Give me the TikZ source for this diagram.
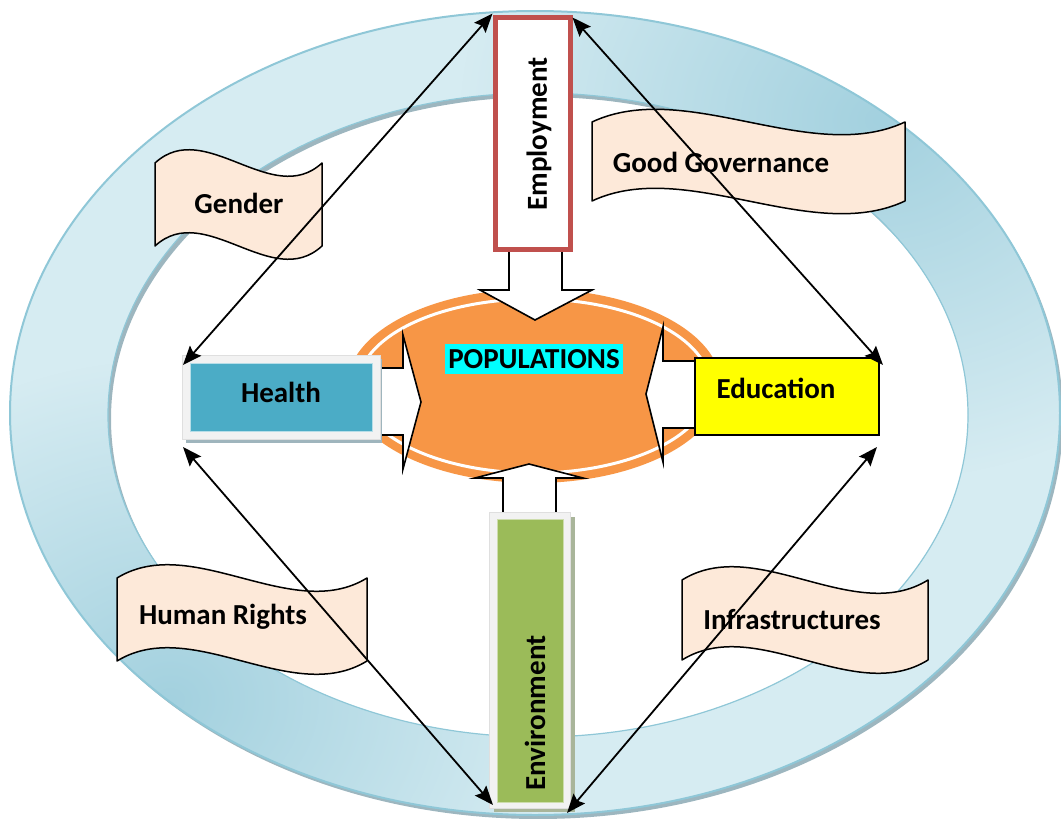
\documentclass[tikz,border=0pt]{standalone}
\usepackage{fontspec}
\setmainfont{Carlito}
\usetikzlibrary{arrows.meta,fadings,calc}
\definecolor{ringlight}{HTML}{D6ECF2}
\definecolor{ringdark}{HTML}{A3D1DF}
\definecolor{ringedge}{HTML}{8FC7D7}
\definecolor{ringshadow}{HTML}{9DB6BF}
\definecolor{popor}{HTML}{F79646}
\definecolor{peach}{HTML}{FDE9D9}
\definecolor{healthblue}{HTML}{4BACC6}
\definecolor{envgreen}{HTML}{9BBB59}
\definecolor{empred}{HTML}{C0504D}
\definecolor{framegray}{HTML}{F2F2F2}
\definecolor{hshadow}{HTML}{9FB5BD}
\definecolor{eshadow}{HTML}{A9B59A}
\definecolor{hilite}{HTML}{00FFFF}
\definecolor{eduyellow}{HTML}{FFFF00}
\tikzfading[name=myradial, inner color=transparent!0, outer color=transparent!100]
\begin{document}
\begin{tikzpicture}[x=1pt,y=-1pt,
  lbl/.style={font=\bfseries\fontsize{29}{33}\selectfont, text=black, inner sep=0pt},
  banner/.style={fill=peach, draw=black, line width=1.5pt, line join=round},
  blockarrow/.style={fill=white, draw=black, line width=1.6pt, line join=miter},
  link/.style={line width=1.8pt, {Stealth[length=19pt,width=15pt,inset=3pt]}-{Stealth[length=19pt,width=15pt,inset=3pt]}},
  plainbox/.style={inner sep=0pt, outer sep=0pt}]
\useasboundingbox (0,0) rectangle (1061,819);

% ring shadow
\fill[ringshadow, even odd rule] (538,417) ellipse [x radius=525, y radius=402]
  (541,419) ellipse [x radius=430, y radius=322];
% ring body
\begin{scope}[even odd rule]
  \clip (535,413) ellipse [x radius=525, y radius=402]
    (538,415) ellipse [x radius=430, y radius=322];
  \fill[ringlight] (0,0) rectangle (1061,819);
  \fill[ringdark, path fading=myradial] (880,120) ellipse [x radius=420, y radius=360];
  \fill[ringdark, path fading=myradial] (170,700) ellipse [x radius=400, y radius=340];
\end{scope}
\draw[ringedge, line width=2pt] (535,413) ellipse [x radius=525, y radius=402];
\draw[ringedge, line width=1.2pt] (538,415) ellipse [x radius=430, y radius=322];

% banners
\path[banner] (155,163) .. controls (205,117) and (272,209) .. (322,163) -- (322,246)
  .. controls (272,292) and (205,200) .. (155,246) -- cycle;
\path[banner] (592,122) .. controls (686,78) and (811,166) .. (905,122) -- (905,201)
  .. controls (811,245) and (686,157) .. (592,201) -- cycle;
\path[banner] (117,578) .. controls (192,532) and (292,624) .. (367,578) -- (367,661)
  .. controls (292,707) and (192,615) .. (117,661) -- cycle;
\path[banner] (682,580) .. controls (756,534) and (854,626) .. (928,580) -- (928,660)
  .. controls (854,706) and (756,614) .. (682,660) -- cycle;
\node[lbl] (gender) at (239,203) {Gender};
\node[lbl] (gov) at (721,162) {Good Governance};
\node[lbl] (rights) at (223,617) {Human Rights};
\node[lbl] (infra) at (792,620) {Infrastructures};

% central population ellipse
\fill[popor] (534,386) ellipse [x radius=187, y radius=97];
\draw[white, line width=3pt] (534,386) ellipse [x radius=176, y radius=87];

% block arrows
\path[blockarrow] (509,240) -- (509,290) -- (480,290) -- (535,320) -- (592,290) -- (562,290) -- (562,240) -- cycle;
\path[blockarrow] (370,368) -- (403,368) -- (403,335) -- (421,402) -- (403,469) -- (403,435) -- (370,435) -- cycle;
\path[blockarrow] (705,361) -- (663,361) -- (663,327) -- (646,394) -- (663,462) -- (663,428) -- (705,428) -- cycle;
\path[blockarrow] (503,525) -- (503,478) -- (475,478) -- (529,464) -- (583,478) -- (556,478) -- (556,525) -- cycle;

\node[lbl, fill=hilite, inner xsep=3pt, inner ysep=5pt] (pop) at (534,359) {POPULATIONS};

% Employment
\node[plainbox, draw=empred, line width=5pt, fill=white, minimum width=75pt, minimum height=232pt] (emp) at (533,133.5) {};
\node[lbl, rotate=90] (emptxt) at (539,134) {Employment};

% Health
\fill[hshadow] (186,359) rectangle (382,443);
\node[plainbox, fill=framegray, draw=gray!25, line width=0.6pt, minimum width=198pt, minimum height=84pt] (hea) at (281,397) {};
\node[plainbox, fill=healthblue, draw=healthblue!40, line width=0.8pt, minimum width=182pt, minimum height=68pt] (heain) at (281,397) {};
\node[lbl] (heatxt) at (281,392) {Health};

% Education
\node[plainbox, fill=eduyellow, draw=black, line width=2pt, minimum width=184pt, minimum height=77pt] (edu) at (787,396.5) {};
\node[lbl] (edutxt) at (776,388) {Education};

% Environment
\fill[eshadow] (494,517) rectangle (575,812);
\node[plainbox, fill=framegray, draw=gray!25, line width=0.6pt, minimum width=81pt, minimum height=296pt] (env) at (529.5,660) {};
\node[plainbox, fill=envgreen, draw=envgreen!50, line width=0.8pt, minimum width=66pt, minimum height=283pt] (envin) at (530,660.5) {};
\node[lbl, rotate=90] (envtxt) at (535,713) {Environment};

% double-headed links
\draw[link] ($(emp.north west)+(-3,-4)$) -- ($(hea.north west)+(1,10)$);
\draw[link] ($(emp.north east)+(2,0)$) -- ($(edu.north east)+(4,7)$);
\draw[link] ($(hea.south west)+(1,8)$) -- ($(env.south west)+(4,-3)$);
\draw[link] ($(edu.south east)+(-2,12)$) -- ($(env.south east)+(-3,5)$);
\end{tikzpicture}
\end{document}
